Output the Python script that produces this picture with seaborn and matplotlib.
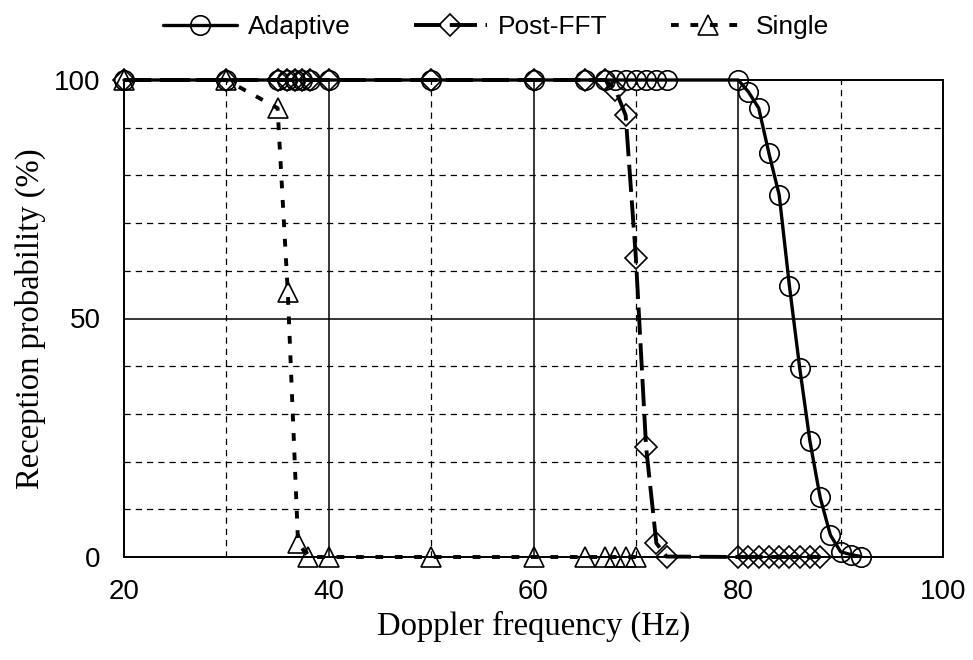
import numpy as np
import pandas as pd
import matplotlib
matplotlib.use("Agg")
import matplotlib.pyplot as plt
import seaborn as sns
from matplotlib.ticker import MultipleLocator

# Adaptive
adaptive_x = [20, 30, 35, 35.9, 36.7, 37.4, 38.2, 40, 50, 60, 65, 67, 68, 69, 70, 71, 72, 73,
              80, 81, 82, 83, 84, 85, 86, 87, 88, 89, 90, 91, 92]
adaptive_y = [100] * 19 + [97.5, 94.1, 84.6, 75.9, 56.8, 39.7, 24.3, 12.5, 4.6, 1.1, 0.5, 0.1]

# Post-FFT
postfft_x = [20, 30, 35, 35.9, 36.7, 37.4, 38.2, 40, 50, 60, 65, 67, 68, 69, 70, 71, 72, 73,
             80, 81, 82, 83, 84, 85, 86, 87, 88]
postfft_y = [100] * 12 + [98.0, 92.6, 62.7, 23.0, 2.9, 0.1] + [0] * 9

# Single
single_x = [20, 30, 35, 36, 37, 38, 40, 50, 60, 65, 67, 68, 69, 70]
single_y = [100, 100, 94.1, 55.5, 3.0, 0, 0, 0, 0, 0, 0, 0, 0, 0]

sns.set_style("white")
plt.rcParams["font.family"] = ["Liberation Sans", "DejaVu Sans"]
plt.rcParams.update({"text.color": "black", "axes.labelcolor": "black",
                     "xtick.color": "black", "ytick.color": "black"})

fig = plt.figure(figsize=(9.73, 6.6), dpi=100)
ax = fig.add_axes([124 / 973, 1 - 557 / 660, (943 - 124) / 973, (557 - 80) / 660])

mk = dict(markersize=14, markerfacecolor="none", markeredgecolor="black",
          markeredgewidth=1.2, clip_on=False)

sns.lineplot(x=adaptive_x, y=adaptive_y, ax=ax, color="black", lw=2.4, marker="o",
             label="Adaptive", zorder=5, **mk)
sns.lineplot(x=postfft_x, y=postfft_y, ax=ax, color="black", lw=2.8, marker="D",
             dashes=(7, 2.2), label="Post-FFT", zorder=4,
             **{**mk, "markersize": 11})
sns.lineplot(x=single_x, y=single_y, ax=ax, color="black", lw=2.8, marker="^",
             dashes=(2, 3), label="Single", zorder=3, **mk)

ax.set_xlim(20, 100)
ax.set_ylim(0, 100)
ax.xaxis.set_major_locator(MultipleLocator(20))
ax.xaxis.set_minor_locator(MultipleLocator(10))
ax.yaxis.set_major_locator(MultipleLocator(50))
ax.yaxis.set_minor_locator(MultipleLocator(10))

ax.grid(which="major", color="black", lw=1.1, ls="-", zorder=0)
ax.grid(which="minor", color="black", lw=0.9, ls=(0, (5, 4)), zorder=0)
ax.set_axisbelow(True)
for s in ax.spines.values():
    s.set_color("black")
    s.set_linewidth(1.4)

ax.tick_params(axis="both", which="both", length=0, labelsize=20, labelcolor="black")
ax.tick_params(axis="x", pad=16)
ax.tick_params(axis="y", pad=17)
ax.set_xlabel("Doppler frequency (Hz)", family="Liberation Serif", fontsize=23.5, labelpad=4)
ax.set_ylabel("Reception probability (%)", family="Liberation Serif", fontsize=23.5, labelpad=6)

ax.legend(loc="center", bbox_to_anchor=(0.454, 1 + 53 / 477), ncol=3, frameon=False,
          fontsize=19, handlelength=2.8, columnspacing=2.4, handletextpad=0.4,
          borderaxespad=0.0, labelcolor="black")

plt.savefig("out.png", dpi=100)
plt.close()
